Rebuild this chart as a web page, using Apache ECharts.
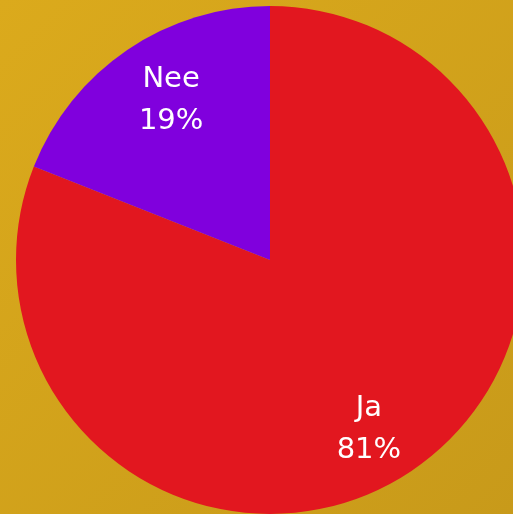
<!DOCTYPE html>
<html><head><meta charset="utf-8">
<script src="https://cdn.jsdelivr.net/npm/echarts@6/dist/echarts.min.js"></script>
<style>html,body{margin:0;padding:0;}#c{width:513px;height:514px;}</style>
</head><body><div id="c"></div>
<script>
const categories = ['Ja', 'Nee'];
const values = [81, 19];
const colors = ['#e2171f', '#8000dd'];

const data = categories.map((n, i) => ({name: n, value: values[i], itemStyle: {color: colors[i]}}));
const chart = echarts.init(document.getElementById('c'));
chart.setOption({
  backgroundColor: new echarts.graphic.LinearGradient(0, 0, 1, 1, [
    {offset: 0, color: '#dbaa1c'}, {offset: 1, color: '#c89a1a'}
  ]),
  animation: false,
  series: [{
    type: 'pie', center: [270, 260], radius: [0, 254], startAngle: 90, clockwise: true,
    label: {show: false}, labelLine: {show: false}, silent: true,
    data: data
  }, {
    type: 'pie', center: [270, 265], radius: [124, 254], startAngle: 86.8, clockwise: true,
    silent: true,
    itemStyle: {color: 'rgba(0,0,0,0)'},
    label: {show: true, position: 'inside', color: '#ffffff', fontFamily: 'DejaVu Sans', fontSize: 29, lineHeight: 42,
      formatter: p => p.name + '\n' + Math.round(p.percent) + '%'},
    labelLine: {show: false},
    data: categories.map((n, i) => ({name: n, value: values[i]}))
  }]
});
</script></body></html>
